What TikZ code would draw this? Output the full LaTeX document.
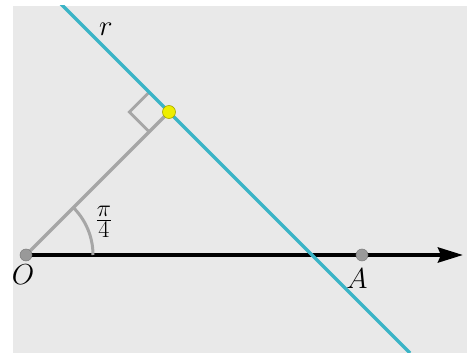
\documentclass[tikz,border=0pt]{standalone}
\usetikzlibrary{arrows.meta}
\definecolor{bg}{HTML}{E9E9E9}
\definecolor{teal}{HTML}{3BB4C6}
\definecolor{segg}{HTML}{A6A6A6}
\definecolor{ptg}{HTML}{999999}
\definecolor{ylw}{HTML}{EEEE00}
\newcommand{\mylbl}[1]{\scalebox{1.16}{$#1$}}
\tikzset{
  lbl/.style={inner sep=0pt, font=\Huge},
  gdot/.style={circle, inner sep=0pt, minimum size=12pt, fill=ptg, draw=ptg!80!black, line width=0.5pt},
  ydot/.style={circle, inner sep=0pt, minimum size=13pt, fill=ylw, draw=ylw!70!black, line width=0.6pt},
}
\begin{document}
\begin{tikzpicture}[x=1pt,y=-1pt]
\useasboundingbox (0,0) rectangle (467,353);
\fill[bg] (13,6) rectangle (467,353);
\coordinate (O) at (26,255);
\coordinate (A) at (362,255);
\coordinate (P) at (169,112);
\coordinate (T) at (463,255);
\coordinate (R1) at (57,0);
\coordinate (R2) at (410,353);
\coordinate (Q1) at (149.2,92.2);
\coordinate (Q2) at (129.4,112);
\coordinate (Q3) at (149.2,131.8);
% axis
\draw[line width=4pt, -{Stealth[length=25pt,width=15pt,inset=3pt]}] (O) -- (T);
% angle arc
\draw[segg, line width=3pt] (93,255) arc[start angle=0, end angle=-45, radius=67];
% segment O-P
\draw[segg, line width=3.2pt] (O) -- (P);
% right angle mark
\draw[segg, line width=2.8pt] (Q1) -- (Q2) -- (Q3);
% line r
\begin{scope}
\clip (13,6) rectangle (467,353);
\draw[teal, line width=3.5pt] (R1) -- (R2);
\end{scope}
% points
\node[gdot] (o) at (O) {};
\node[gdot] (a) at (A) {};
\node[ydot] (p) at (P) {};
% labels
\node[lbl] (lo) at (23,275) {\mylbl{O}};
\node[lbl] (la) at (357,279) {\mylbl{A}};
\node[lbl] (lr) at (106,29) {\mylbl{r}};
\node[lbl] (lang) at (104,222) {\mylbl{\frac{\pi}{4}}};
\end{tikzpicture}
\end{document}
